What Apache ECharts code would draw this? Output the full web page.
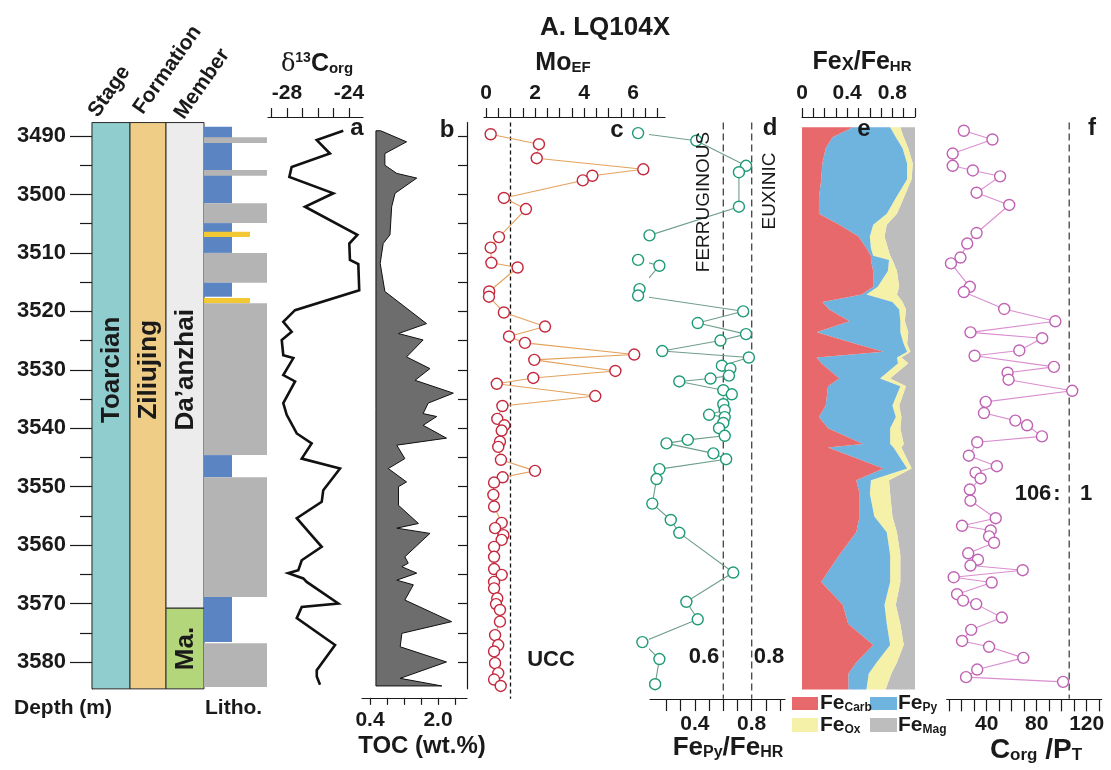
<!DOCTYPE html>
<html><head><meta charset="utf-8">
<script src="https://cdn.jsdelivr.net/npm/echarts@6/dist/echarts.min.js"></script>
<style>html,body{margin:0;padding:0;background:#fff}#c{width:1111px;height:770px}</style>
</head><body><div id="c"></div>
<script>
// ---------------- DATA ----------------
const depthTicks = [3490,3500,3510,3520,3530,3540,3550,3560,3570,3580];
const depthMinorTicks = [3495,3505,3515,3525,3535,3545,3555,3565,3575];
const DMIN = 3487.7, DMAX = 3584.6;

const stageName = ['Toarcian'];          const stageTop = [3487.7]; const stageBase = [3584.6];
const formationName = ['Ziliujing'];     const formationTop = [3487.7]; const formationBase = [3584.6];
const memberName = ['Da\u2019anzhai','Ma.']; const memberTop = [3487.7,3570.8]; const memberBase = [3570.8,3584.6];

const lithoTop  = [3488.4,3490.2,3495.8,3501.5,3504.9,3506.4,3510.0,3515.1,3517.7,3518.6,3544.6,3548.4,3568.9,3576.8];
const lithoBase = [3501.5,3491.2,3496.8,3504.9,3510.0,3507.3,3515.1,3517.5,3518.6,3544.6,3548.4,3568.9,3576.6,3584.3];
const lithoType = ['lime','mud','mud','mud','lime','sand','mud','lime','sand','mud','lime','mud','lime','mud'];

const d13cDepth = [3489.1,3490.7,3493.0,3495.3,3497.0,3499.8,3502.1,3506.9,3508.4,3511.2,3511.9,3516.4,3519.8,3521.8,3523.5,3524.9,3527.5,3528.0,3530.9,3532.0,3535.7,3537.7,3540.9,3542.6,3545.2,3546.9,3548.0,3550.6,3552.6,3555.4,3558.0,3560.3,3562.6,3564.3,3564.8,3565.7,3566.3,3570.0,3570.6,3572.5,3577.1,3581.4,3582.5,3583.9];
const d13cValue = [-24.37,-26.08,-25.23,-27.70,-27.85,-25.01,-26.84,-23.46,-23.98,-23.94,-23.40,-23.34,-27.48,-28.24,-27.70,-28.34,-28.24,-27.59,-28.24,-27.48,-28.24,-28.02,-27.37,-26.41,-27.05,-24.58,-24.90,-25.66,-25.76,-27.37,-26.52,-25.76,-27.05,-27.27,-27.92,-26.95,-26.73,-24.69,-27.05,-27.37,-24.90,-26.08,-26.08,-25.87];
const d13cTicks = [-29,-28,-27,-26,-25,-24,-23];
const d13cLabels = [-28,-24];

const tocDepth = [3489.1,3491.0,3493.0,3495.0,3496.4,3497.2,3499.8,3502.1,3506.9,3508.4,3511.8,3516.6,3522.1,3523.8,3524.9,3527.8,3529.8,3531.8,3534.0,3535.7,3537.5,3538.0,3539.5,3541.7,3542.9,3545.2,3546.9,3549.2,3550.0,3553.2,3556.3,3557.1,3558.0,3562.0,3563.1,3563.7,3564.8,3566.0,3566.8,3569.4,3573.1,3575.1,3577.4,3580.0,3582.8,3584.1];
const tocValue = [0.65,1.26,0.75,0.75,1.03,1.50,0.99,0.91,0.87,0.71,0.64,0.75,1.73,1.07,1.65,1.26,1.81,1.46,2.36,1.77,1.65,1.97,1.65,2.20,1.03,1.22,0.83,1.26,1.07,1.07,1.54,1.03,1.81,1.22,1.30,1.15,1.50,1.03,1.42,1.22,2.32,1.15,1.11,2.20,1.11,2.09];
const tocBaseline = 0.54;
const tocTicks = [0.4,0.8,1.2,1.6,2.0,2.4];
const tocLabels = [0.4,2.0];
const depthSideTicks = [3490,3495,3500,3505,3510,3515,3520,3525,3530,3535,3540,3545,3550,3555,3560,3565,3570,3575,3580];

const moDepth = [3489.7,3491.4,3493.8,3495.7,3496.8,3497.6,3500.6,3502.5,3507.3,3509.1,3511.7,3512.5,3516.6,3517.5,3520.2,3522.6,3524.3,3525.4,3527.4,3528.3,3530.2,3531.4,3532.4,3534.5,3536.2,3538.4,3539.5,3540.4,3542.3,3543.2,3545.4,3547.3,3548.4,3549.3,3551.4,3553.4,3556.2,3557.1,3558.3,3559.1,3560.3,3562.0,3564.1,3565.1,3566.3,3567.4,3569.1,3570.1,3571.1,3573.1,3575.4,3577.1,3578.2,3580.2,3581.9,3583.0,3584.1];
const moValue = [0.19,2.16,2.07,6.42,4.34,3.95,0.73,1.63,0.53,0.19,0.22,1.29,0.13,0.12,0.73,2.41,0.94,1.59,6.05,1.97,5.28,1.93,0.44,4.46,0.67,0.46,0.75,0.64,0.57,0.50,0.61,2.00,0.68,0.33,0.30,0.33,0.64,0.37,0.71,0.64,0.33,0.33,0.33,0.64,0.33,0.33,0.46,0.41,0.57,0.57,0.37,0.50,0.33,0.37,0.50,0.33,0.60];
const moTicks = [0,0.5,1,1.5,2,2.5,3,3.5,4,4.5,5,5.5,6,6.5,7];
const moLabels = [0,2,4,6];
const uccMo = 1;

const pyDepth = [3489.5,3490.8,3495.1,3496.2,3502.1,3507.0,3511.2,3512.2,3516.2,3517.3,3520.0,3522.0,3523.9,3525.0,3526.8,3527.9,3529.3,3529.8,3531.0,3531.5,3532.0,3533.5,3534.2,3535.9,3536.9,3537.7,3538.1,3539.1,3540.0,3541.3,3542.0,3542.6,3544.3,3545.3,3547.0,3548.7,3552.9,3555.7,3557.9,3564.7,3569.7,3572.7,3576.6,3579.5,3583.8];
const pyValue = [0.00,0.41,0.76,0.71,0.71,0.08,0.00,0.15,0.01,0.00,0.74,0.42,0.76,0.58,0.17,0.78,0.59,0.65,0.64,0.51,0.29,0.60,0.66,0.60,0.61,0.50,0.61,0.60,0.57,0.61,0.35,0.20,0.53,0.62,0.15,0.13,0.10,0.23,0.29,0.67,0.34,0.42,0.03,0.15,0.12];
const pyTicks = [0.2,0.3,0.4,0.5,0.6,0.7,0.8,0.9,1.0];
const pyLabels = [0.4,0.8];
const ferruginousLimit = 0.6, euxinicLimit = 0.8;

const feDepth = [3488.5,3490.2,3492.1,3494.7,3497.4,3500.6,3503.3,3505.2,3507.2,3509.2,3510.5,3511.2,3513.1,3515.8,3517.1,3518.4,3519.7,3521.7,3523.6,3525.6,3526.9,3527.9,3528.9,3531.5,3532.8,3536.1,3538.1,3540.0,3542.7,3543.3,3546.9,3548.9,3551.2,3555.1,3557.8,3561.7,3566.3,3570.2,3573.5,3577.1,3580.1,3582.0,3584.7];
const feCarb = [0.45,0.27,0.21,0.18,0.17,0.15,0.15,0.33,0.50,0.57,0.61,0.61,0.63,0.63,0.53,0.18,0.24,0.42,0.13,0.48,0.72,0.13,0.17,0.33,0.23,0.21,0.15,0.23,0.54,0.23,0.72,0.48,0.51,0.51,0.48,0.33,0.17,0.36,0.41,0.63,0.48,0.41,0.41];
const fePy   = [0.33,0.56,0.68,0.75,0.76,0.68,0.60,0.30,0.10,0.04,0.02,0.16,0.13,0.04,0.04,0.62,0.62,0.45,0.74,0.42,0.21,0.71,0.68,0.36,0.64,0.59,0.68,0.55,0.24,0.58,0.21,0.13,0.09,0.13,0.27,0.45,0.61,0.37,0.34,0.15,0.18,0.18,0.16];
const feOx   = [0.09,0.07,0.05,0.05,0.04,0.07,0.09,0.12,0.13,0.15,0.15,0.03,0.08,0.19,0.27,0.09,0.06,0.04,0.07,0.03,0.03,0.04,0.09,0.09,0.05,0.06,0.05,0.09,0.12,0.07,0.04,0.16,0.18,0.16,0.09,0.09,0.09,0.10,0.12,0.12,0.18,0.20,0.17];
const feMag  = [0.13,0.10,0.06,0.02,0.03,0.10,0.16,0.25,0.27,0.24,0.22,0.20,0.16,0.14,0.16,0.11,0.08,0.09,0.06,0.07,0.04,0.12,0.06,0.22,0.08,0.14,0.12,0.13,0.10,0.12,0.03,0.23,0.22,0.20,0.16,0.13,0.13,0.17,0.13,0.10,0.16,0.21,0.26];
const feTicks = [0,0.1,0.2,0.3,0.4,0.5,0.6,0.7,0.8,0.9,1.0];
const feLabels = [0,0.4,0.8];

const cpDepth = [3489.1,3490.6,3493.0,3495.1,3495.9,3496.9,3499.7,3501.8,3506.6,3508.4,3510.8,3511.8,3515.8,3516.7,3519.6,3521.7,3523.6,3524.6,3526.7,3527.6,3529.5,3530.5,3531.7,3533.6,3535.5,3537.4,3538.7,3539.5,3541.4,3542.4,3544.7,3546.5,3547.6,3548.6,3550.5,3552.4,3555.4,3556.7,3557.5,3558.5,3559.6,3561.4,3562.5,3563.5,3564.3,3565.5,3566.4,3568.4,3569.5,3570.1,3572.4,3574.5,3576.4,3577.4,3579.3,3581.3,3582.6,3583.4];
const cpValue = [21.7,44.6,12.8,12.8,28.9,50.7,31.9,58.0,31.9,24.4,19.0,11.4,26.5,21.7,54.0,94.9,27.0,84.4,66.1,30.3,93.8,56.7,57.5,108.4,39.2,37.8,62.9,72.3,84.2,32.4,25.7,48.1,31.1,35.1,26.5,27.0,47.2,20.3,43.2,41.9,45.9,25.2,33.0,27.0,68.8,13.6,44.0,16.3,21.1,31.6,52.1,27.6,20.3,41.9,69.3,32.4,23.5,101.1];
const cpTicks = [10,20,30,40,50,60,70,80,90,100,110,120,130];
const cpLabels = [40,80,120];
const redfieldRatio = 106;

const refLineDepth = [3487.7, 3586.3];

// ---------------- STYLE / LAYOUT ----------------
const FONT = '"Liberation Sans", Arial, Helvetica, sans-serif';
const INK = '#1a1a1a';
const GT = 122.56, GH = 566.3;
const COL = {stage:[0,38], formation:[38,74], member:[74,112], lithoL:112, lime:140, sand:158, mud:175};
const LITHO_COLOR = {lime:'#5b84c3', mud:'#b4b4b4', sand:'#f3c835'};
const UNIT_LABEL_DEPTH = 3530;
const chart = echarts.init(document.getElementById('c'), null, {renderer:'canvas'});

const gridDefs = [[92,175],[268,95],[362,105],[484,181],[650,135],[802,113],[946.7,155]];
const grid = gridDefs.map(g => ({left:g[0], width:g[1], top:GT, height:GH, containLabel:false, outerBoundsMode:'none'}));

function xAx(gi, min, max, pos, offset, ticks, labels, tickLen, margin, fmt) {
  return {type:'value', gridIndex:gi, min, max, position:pos, offset,
    axisLine:{show:true, onZero:false, lineStyle:{color:INK, width:1.2}},
    axisTick:{show:true, inside:false, length:tickLen, customValues:ticks, lineStyle:{color:INK, width:1.2}},
    axisLabel:{show:true, customValues:labels, margin, color:INK, fontFamily:FONT, fontWeight:'bold', fontSize:21, formatter:fmt || (v => String(v))},
    splitLine:{show:false}};
}
const xAxis = [
  {type:'value', gridIndex:0, min:0, max:175, show:false},
  xAx(1, -29.226, -23.097, 'top', 5.5, d13cTicks, d13cLabels, 9, 13),
  xAx(2, 0.2118, 2.6824, 'bottom', 9, tocTicks, tocLabels, 7, 12, v => v.toFixed(1)),
  xAx(3, -0.0816, 7.306, 'top', 5.5, moTicks, moLabels, 9, 13),
  xAx(4, 0.0838, 1.0345, 'bottom', 10.2, pyTicks, pyLabels, 12, 15),
  xAx(5, 0, 1, 'top', 5.5, feTicks, feLabels, 9, 13),
  xAx(6, 8, 132, 'bottom', 10.5, cpTicks, cpLabels, 12, 14)
];
function yHidden(gi){ return {type:'value', gridIndex:gi, min:DMIN, max:DMAX, inverse:true, show:false}; }
const yAxis = [
  {type:'value', gridIndex:0, min:DMIN, max:DMAX, inverse:true, position:'left',
   axisLine:{show:true, onZero:false, lineStyle:{color:INK, width:1.2}},
   axisTick:{show:true, length:22, customValues:depthTicks, lineStyle:{color:INK, width:1.2}},
   axisLabel:{show:true, customValues:depthTicks, margin:26, color:INK, fontFamily:FONT, fontWeight:'bold', fontSize:22, formatter:v => String(v)},
   splitLine:{show:false}},
  {type:'value', gridIndex:0, min:DMIN, max:DMAX, inverse:true, position:'left',
   axisLine:{show:false}, axisTick:{show:true, length:12, customValues:depthMinorTicks, lineStyle:{color:INK, width:1.2}},
   axisLabel:{show:false}, splitLine:{show:false}},
  yHidden(1),
  {type:'value', gridIndex:2, min:DMIN, max:DMAX, inverse:true, position:'right',
   axisLine:{show:true, onZero:false, lineStyle:{color:INK, width:1.2}},
   axisTick:{show:true, inside:true, length:9, customValues:depthSideTicks, lineStyle:{color:INK, width:1.2}},
   axisLabel:{show:false}, splitLine:{show:false}},
  yHidden(3), yHidden(4), yHidden(5), yHidden(6)
];

function unitSeries(names, tops, bases, colSpan, colors) {
  return {type:'custom', xAxisIndex:0, yAxisIndex:0, silent:true, z:2,
    data: tops.map((t,i)=>[0, t, bases[i]]), encode:{x:0, y:[1,2]},
    renderItem:(params, api) => {
      const i = params.dataIndex;
      const a = api.coord([colSpan[0], api.value(1)]);
      const b = api.coord([colSpan[1], api.value(2)]);
      const long = (bases[i] - tops[i]) > 40;
      const ly = long ? api.coord([0, UNIT_LABEL_DEPTH])[1] : (a[1]+b[1])/2;
      return {type:'group', children:[
        {type:'rect', shape:{x:a[0], y:a[1], width:b[0]-a[0], height:b[1]-a[1]}, style:{fill:colors[i], stroke:'#2a2a2a', lineWidth:1}},
        {type:'text', x:(a[0]+b[0])/2+1, y:ly, rotation:Math.PI/2,
         style:{text:names[i], font:`bold 26px ${FONT}`, fill:INK, align:'center', verticalAlign:'middle', textAlign:'center', textVerticalAlign:'middle'}}
      ]};
    }};
}

function pointLine(xi, yi, vals, deps, stroke, line, z) {
  return {type:'line', xAxisIndex:xi, yAxisIndex:yi, data: vals.map((v,i)=>[v, deps[i]]),
    symbol:'circle', symbolSize:11, showSymbol:true, showAllSymbol:true, clip:false, z:z||5,
    itemStyle:{color:'#fff', borderColor:stroke, borderWidth:1.4},
    lineStyle:{color:line, width:1.1}, silent:true};
}
function refLine(xi, yi, v, color, dash) {
  return {type:'line', xAxisIndex:xi, yAxisIndex:yi, data: refLineDepth.map(d=>[v,d]), symbol:'none', clip:false, z:3, silent:true,
    lineStyle:{color, width:1.3, type:dash}};
}

const series = [
  unitSeries(stageName, stageTop, stageBase, COL.stage, ['#8fcdcf']),
  unitSeries(formationName, formationTop, formationBase, COL.formation, ['#efcd87']),
  unitSeries(memberName, memberTop, memberBase, COL.member, ['#ececec','#b4d67b']),
  {type:'custom', xAxisIndex:0, yAxisIndex:0, silent:true, z:2,
   data: lithoTop.map((t,i)=>[0, t, lithoBase[i]]), encode:{x:0, y:[1,2]},
   renderItem:(params, api) => {
     const i = params.dataIndex, ty = lithoType[i];
     const a = api.coord([COL.lithoL, api.value(1)]);
     const b = api.coord([COL[ty], api.value(2)]);
     return {type:'rect', shape:{x:a[0], y:a[1], width:b[0]-a[0], height:b[1]-a[1]}, style:{fill:LITHO_COLOR[ty]}};
   }},
  {type:'line', xAxisIndex:1, yAxisIndex:2, data:d13cValue.map((v,i)=>[v, d13cDepth[i]]), symbol:'none', clip:false,
   lineStyle:{color:'#111', width:2.6, join:'miter'}, silent:true},
  {type:'custom', xAxisIndex:2, yAxisIndex:3, silent:true, z:2,
   data:[[tocBaseline, tocDepth[0]]], encode:{x:0, y:1},
   renderItem:(params, api) => {
     const pts = tocValue.map((v,i)=>api.coord([v, tocDepth[i]]));
     pts.push(api.coord([tocBaseline, tocDepth[tocDepth.length-1]]));
     pts.push(api.coord([tocBaseline, tocDepth[0]]));
     return {type:'polygon', shape:{points:pts}, style:{fill:'#6d6d6d', stroke:'#111', lineWidth:1}};
   }},
  refLine(3, 4, uccMo, '#111', [4,3]),
  pointLine(3, 4, moValue, moDepth, '#c4283d', '#e3a25c'),
  refLine(4, 5, ferruginousLimit, '#444', [7,4]),
  refLine(4, 5, euxinicLimit, '#444', [7,4]),
  pointLine(4, 5, pyValue, pyDepth, '#1e9a78', '#6f9e89'),
  {type:'custom', xAxisIndex:5, yAxisIndex:6, silent:true, z:2,
   data:[[0, feDepth[0]]], encode:{x:0, y:1},
   renderItem:(params, api) => {
     const n = feDepth.length;
     const c0 = new Array(n).fill(0);
     const c1 = feCarb.slice();
     const c2 = c1.map((v,i)=>v+fePy[i]);
     const c3 = c2.map((v,i)=>v+feOx[i]);
     const c4 = c3.map((v,i)=>v+feMag[i]);
     const band = (L, R, fill) => {
       const pts = [];
       for (let i=0;i<n;i++) pts.push(api.coord([R[i], feDepth[i]]));
       for (let i=n-1;i>=0;i--) pts.push(api.coord([L[i], feDepth[i]]));
       return {type:'polygon', shape:{points:pts}, style:{fill}};
     };
     return {type:'group', children:[
       band(c3, c4, '#bdbdbd'), band(c2, c3, '#f6f1a8'), band(c1, c2, '#6fb3df'), band(c0, c1, '#e8696b')
     ]};
   }},
  refLine(6, 7, redfieldRatio, '#444', [7,4]),
  pointLine(6, 7, cpValue, cpDepth, '#c062b3', '#d98ecf')
];

// ---------------- TEXT ----------------
function T(x, y, text, size, o) {
  o = o || {};
  const st = {text, fill:INK, font:`${o.weight||'bold'} ${size}px ${FONT}`,
    align:o.align||'center', verticalAlign:o.va||'middle', textAlign:o.align||'center', textVerticalAlign:o.va||'middle'};
  if (o.rich) st.rich = o.rich;
  return {type:'text', x, y, rotation:o.rot||0, silent:true, z:100, style:st};
}
function R(size, va, weight, family) {
  return {fontSize:size, fontWeight:weight||'bold', fontFamily:family||FONT, fill:INK, verticalAlign:va||'bottom', lineHeight:size};
}
const rot55 = 55*Math.PI/180;
const graphic = [
  T(605, 28, 'A. LQ104X', 26),
  T(93, 115, 'Stage', 21, {align:'left', rot:rot55}),
  T(138, 112, 'Formation', 21, {align:'left', rot:rot55}),
  T(179, 117, 'Member', 21, {align:'left', rot:rot55}),
  T(317, 64, '{d|\u03b4}{u|13}{b|C}{s|org}', 24, {rich:{d:R(24,'bottom','normal','"DejaVu Serif", "Liberation Serif", serif'), u:R(14,'top'), b:R(25,'bottom'), s:R(15,'bottom')}}),
  T(563, 63, '{b|Mo}{s|EF}', 24, {rich:{b:R(25,'bottom'), s:R(15,'bottom')}}),
  T(862, 62, '{b|Fe}{m|X}{b|/Fe}{s|HR}', 24, {rich:{b:R(25,'bottom'), m:R(18,'bottom'), s:R(15,'bottom')}}),
  T(357, 128, 'a', 24), T(447, 130, 'b', 24), T(617, 130, 'c', 24), T(770, 128, 'd', 24), T(864, 129, 'e', 24), T(1092, 128, 'f', 24),
  T(704, 202, 'FERRUGINOUS', 19, {weight:'normal', rot:Math.PI/2}),
  T(770, 191, 'EUXINIC', 19, {weight:'normal', rot:Math.PI/2}),
  T(551, 660, 'UCC', 22), T(704, 657, '0.6', 22), T(769, 657, '0.8', 22),
  T(1033, 494, '106', 22), T(1057, 494, ':', 22), T(1086, 494, '1', 22),
  T(14, 708, 'Depth (m)', 21, {align:'left'}),
  T(205, 708, 'Litho.', 21, {align:'left'}),
  T(422, 746, 'TOC (wt.%)', 24),
  T(728, 748, '{b|Fe}{s|Py}{b|/Fe}{s|HR}', 24, {rich:{b:R(26,'bottom'), s:R(16,'bottom')}}),
  T(1036, 750, '{b|C}{s|org}{b| /P}{s|T}', 26, {rich:{b:R(28,'bottom'), s:R(17,'bottom')}}),
  {type:'rect', shape:{x:792, y:697, width:26, height:13}, style:{fill:'#e8696b'}, silent:true},
  {type:'rect', shape:{x:870, y:697, width:27, height:13}, style:{fill:'#6fb3df'}, silent:true},
  {type:'rect', shape:{x:792, y:718, width:26, height:14}, style:{fill:'#f6f1a8'}, silent:true},
  {type:'rect', shape:{x:870, y:718, width:27, height:14}, style:{fill:'#bdbdbd'}, silent:true},
  T(820, 703, '{b|Fe}{s|Carb}', 20, {align:'left', rich:{b:R(21,'bottom'), s:R(12,'bottom')}}),
  T(898, 703, '{b|Fe}{s|Py}', 20, {align:'left', rich:{b:R(21,'bottom'), s:R(12,'bottom')}}),
  T(820, 725, '{b|Fe}{s|Ox}', 20, {align:'left', rich:{b:R(21,'bottom'), s:R(12,'bottom')}}),
  T(898, 725, '{b|Fe}{s|Mag}', 20, {align:'left', rich:{b:R(21,'bottom'), s:R(12,'bottom')}})
];

chart.setOption({animation:false, backgroundColor:'#fff', grid, xAxis, yAxis, series, graphic});
</script></body></html>
